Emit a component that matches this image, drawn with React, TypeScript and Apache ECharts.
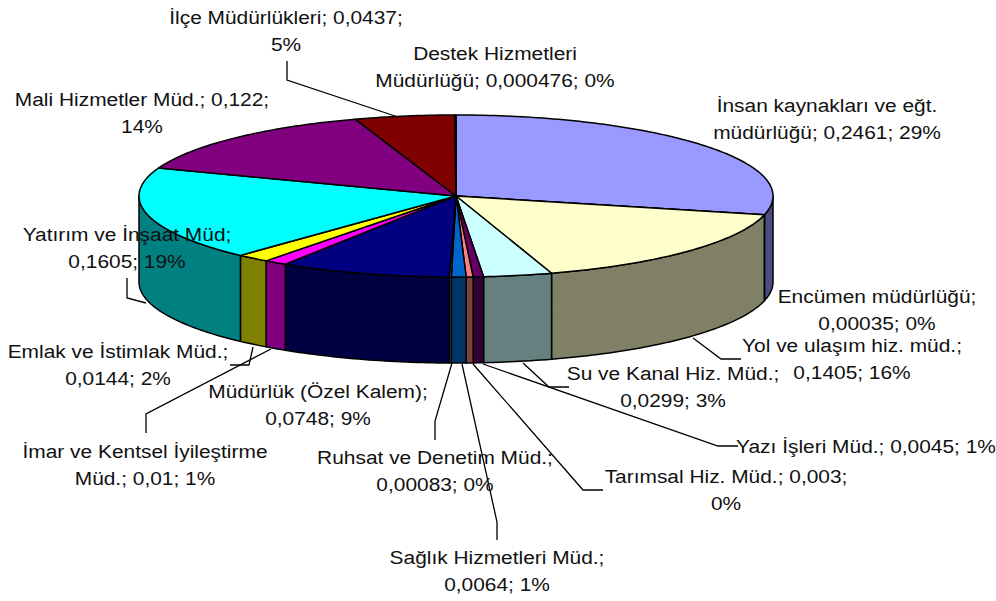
import React, { useEffect, useRef } from "react";
import * as echarts from "echarts";

// Slices clockwise from 12 o'clock
const categories = [
  "İnsan kaynakları ve eğt. müdürlüğü", "Encümen müdürlüğü", "Yol ve ulaşım hiz. müd.",
  "Su ve Kanal Hiz. Müd.", "Yazı İşleri Müd.", "Tarımsal Hiz. Müd.", "Sağlık Hizmetleri Müd.",
  "Ruhsat ve Denetim Müd.", "Müdürlük (Özel Kalem)", "İmar ve Kentsel İyileştirme Müd.",
  "Emlak ve İstimlak Müd.", "Yatırım ve İnşaat Müd", "Mali Hizmetler Müd.", "İlçe Müdürlükleri",
  "Destek Hizmetleri Müdürlüğü",
];
const values = [0.2461, 0.00035, 0.1405, 0.0299, 0.0045, 0.003, 0.0064, 0.00083, 0.0748, 0.01, 0.0144, 0.1605, 0.122, 0.0437, 0.000476];
const topColors = ["#9999FF", "#993366", "#FFFFCC", "#CCFFFF", "#660066", "#FF8080", "#0066CC", "#CCCCFF", "#000080", "#FF00FF", "#FFFF00", "#00FFFF", "#800080", "#800000", "#008080"];
const wallColors = ["#4D4D80", "#4D1A33", "#808066", "#668080", "#330033", "#804040", "#003366", "#666680", "#000040", "#800080", "#808000", "#008080", "#400040", "#400000", "#004040"];

const labelTexts = [
  "İnsan kaynakları ve eğt.\nmüdürlüğü; 0,2461; 29%",
  "Encümen müdürlüğü;\n0,00035; 0%",
  "Yol ve ulaşım hiz. müd.;\n0,1405; 16%",
  "Su ve Kanal Hiz. Müd.;\n0,0299; 3%",
  "Yazı İşleri Müd.; 0,0045; 1%",
  "Tarımsal Hiz. Müd.; 0,003;\n0%",
  "Sağlık Hizmetleri Müd.;\n0,0064; 1%",
  "Ruhsat ve Denetim Müd.;\n0,00083; 0%",
  "Müdürlük (Özel Kalem);\n0,0748; 9%",
  "İmar ve Kentsel İyileştirme\nMüd.; 0,01; 1%",
  "Emlak ve İstimlak Müd.;\n0,0144; 2%",
  "Yatırım ve İnşaat Müd;\n0,1605; 19%",
  "Mali Hizmetler Müd.; 0,122;\n14%",
  "İlçe Müdürlükleri; 0,0437;\n5%",
  "Destek Hizmetleri\nMüdürlüğü; 0,000476; 0%",
];
// layout: label centre x, first-line centre y
const labelPos: number[][] = [
  [827, 105], [877, 296], [852, 345], [673, 373], [866, 446], [726, 476], [497, 557], [435, 457],
  [318, 391], [145, 451], [118, 351], [127, 234], [142, 99], [286, 17], [495, 53],
];
// layout: leader polylines
const leaders: number[][][] = [
  [[693, 338], [721, 359], [741, 359]],
  [[523, 363], [549, 387], [569, 387]],
  [[483, 364], [718, 446], [738, 446]],
  [[473, 364], [583, 490], [603, 490]],
  [[462, 364], [497, 522], [497, 540]],
  [[452, 363], [435, 421], [435, 440]],
  [[271, 349], [146, 414], [146, 433]],
  [[253, 347], [249, 365], [230, 365]],
  [[146, 303], [127, 298], [127, 278]],
  [[398, 117], [287, 80], [287, 61]],
];

const CX = 456, CY = 196, RX = 317, RY = 81, DEPTH = 86;
const total = values.reduce((a, b) => a + b, 0);
const pt = (deg: number, dy = 0) => {
  const r = (deg * Math.PI) / 180;
  return [CX + RX * Math.sin(r), CY - RY * Math.cos(r) + dy];
};
const arc = (a: number, b: number, dy = 0) => {
  const out: number[][] = [];
  const n = Math.max(1, Math.ceil(Math.abs(b - a)));
  for (let i = 0; i <= n; i++) out.push(pt(a + ((b - a) * i) / n, dy));
  return out;
};
const edge = { stroke: "#000", lineWidth: 1.5, lineJoin: "round" };

const renderItem = (params: any, api: any) => {
  const i = params.dataIndex;
  let sum = 0;
  for (let k = 0; k < i; k++) sum += values[k];
  const a = (sum / total) * 360;
  const b = a + (api.value(0) / total) * 360;
  const children: any[] = [];
  const wa = Math.max(a, 90), wb = Math.min(b, 270);
  if (wb > wa) {
    children.push({
      type: "polygon",
      shape: { points: [...arc(wa, wb), ...arc(wb, wa, DEPTH)] },
      style: { fill: wallColors[i], ...edge },
    });
  }
  children.push({
    type: "polygon",
    shape: { points: [[CX, CY], ...arc(a, b)] },
    style: { fill: topColors[i], ...edge },
  });
  return { type: "group", children };
};

export default function App() {
  const ref = useRef<HTMLDivElement>(null);
  useEffect(() => {
    const chart = echarts.init(ref.current!, undefined, { renderer: "svg" });
    chart.setOption({
      animation: false,
      backgroundColor: "#fff",
      series: [
        {
          type: "custom",
          coordinateSystem: "none",
          silent: true,
          data: values.map((v, i) => ({ name: categories[i], value: [v] })),
          renderItem,
        },
      ],
      graphic: [
        ...leaders.map((points) => ({
          type: "polyline",
          z: 100,
          shape: { points },
          style: { stroke: "#000", lineWidth: 1.3, fill: "none" },
        })),
        ...labelTexts.map((text, i) => ({
          type: "text",
          z: 101,
          x: labelPos[i][0],
          y: labelPos[i][1] - 13.5,
          scaleX: 1.1,
          style: {
            text,
            fill: "#111",
            font: '19px "Liberation Sans", Arial, sans-serif',
            align: "center",
            verticalAlign: "top",
            lineHeight: 27,
          },
        })),
      ],
    });
    return () => chart.dispose();
  }, []);
  return <div ref={ref} style={{ position: "fixed", left: 0, top: 0, width: 996, height: 601 }} />;
}
